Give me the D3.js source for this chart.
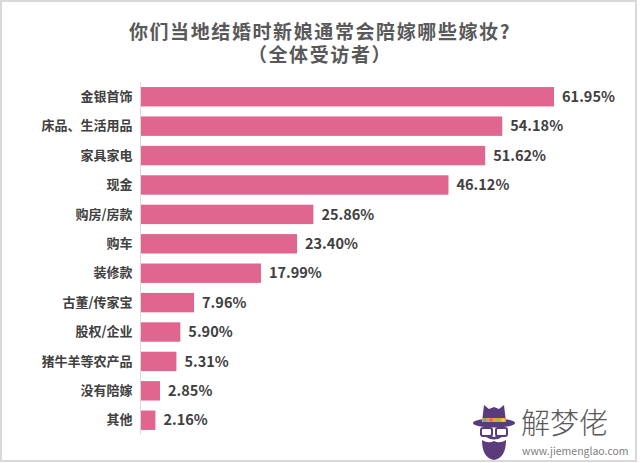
<html>
<head>
<meta charset="utf-8">
<title>嫁妆</title>
<style type="text/css">
* { margin: 0; padding: 0; }
body { background: #fff; width: 640px; height: 463px; overflow: hidden; }
text { font-family: "Noto Sans CJK SC", "Noto Sans", sans-serif; }
</style>
<script type="text/javascript" src="https://cdn.jsdelivr.net/npm/d3@7"></script>
</head>
<body>
<div id="chart"></div>
<script type="text/javascript">
// data
var categories = ["金银首饰", "床品、生活用品", "家具家电", "现金", "购房/房款", "购车", "装修款",
                  "古董/传家宝", "股权/企业", "猪牛羊等农产品", "没有陪嫁", "其他"];
var shares = [61.95, 54.18, 51.62, 46.12, 25.86, 23.40, 17.99, 7.96, 5.90, 5.31, 2.85, 2.16];
var titleLines = ["你们当地结婚时新娘通常会陪嫁哪些嫁妆?", "（全体受访者）"];

var W = 640, H = 463;
var pink = "#e0658f";
var textColor = "#404040";

var svg = d3.select("#chart").append("svg")
  .attr("width", W).attr("height", H);

// frame
svg.append("rect")
  .attr("x", 1).attr("y", 1).attr("width", 635).attr("height", 460)
  .attr("fill", "none").attr("stroke", "#d9d9d9").attr("stroke-width", 2);

// title, two lines in one text block
var title = svg.append("text")
  .attr("x", 320)
  .attr("y", 39)
  .attr("text-anchor", "middle")
  .attr("fill", "#595959")
  .attr("font-size", 19)
  .attr("font-weight", "bold")
  .attr("letter-spacing", 1.6);
title.selectAll("tspan").data(titleLines).enter().append("tspan")
  .attr("x", 320)
  .attr("dy", function(d, i) { return i == 0 ? 0 : 23; })
  .text(function(d) { return d; });

var x = d3.scaleLinear().domain([0, 70]).range([141, 141 + 6.667 * 70]);
var y = d3.scaleBand().domain(categories).range([82.5, 434.5])
  .paddingInner(0.34).paddingOuter(0.155);

// bars
svg.selectAll("rect.bar").data(shares).enter().append("rect")
  .attr("class", "bar")
  .attr("x", x(0))
  .attr("y", function(d, i) { return y(categories[i]); })
  .attr("width", function(d) { return x(d) - x(0); })
  .attr("height", y.bandwidth())
  .attr("fill", pink);

// vertical axis
var yAxis = svg.append("g")
  .attr("transform", "translate(" + (x(0) - 0.5) + ",0)")
  .call(d3.axisLeft(y).tickSize(0).tickPadding(8));
yAxis.select(".domain").attr("stroke", "#d9d9d9").attr("d", "M0,82.5V434.5");
yAxis.selectAll("text")
  .attr("fill", textColor)
  .attr("font-size", 13)
  .attr("font-weight", "bold")
  .attr("font-family", "\"Noto Sans CJK SC\", sans-serif");

// value labels
svg.selectAll("text.val").data(shares).enter().append("text")
  .attr("class", "val")
  .attr("x", function(d) { return x(d) + 8; })
  .attr("y", function(d, i) { return y(categories[i]) + y.bandwidth() / 2; })
  .attr("dy", "0.36em")
  .attr("fill", textColor)
  .attr("font-size", 14.5)
  .attr("font-weight", "bold")
  .attr("font-family", "\"Open Sans\", sans-serif")
  .text(function(d) { return d.toFixed(2) + "%"; });

// watermark logo
var logo = svg.append("g").attr("transform", "translate(494,432)");
logo.append("path")
  .attr("d", "M-12,-10 L-10,-27 L-5,-23 L0,-25 L5,-23 L10,-27 L12,-10 Z")
  .attr("fill", "#5a3c7c");
logo.append("ellipse").attr("cx", 0).attr("cy", -9).attr("rx", 21).attr("ry", 4.5).attr("fill", "#5a3c7c");
logo.append("rect").attr("x", -12).attr("y", -14).attr("width", 24).attr("height", 4).attr("fill", "#e9a23b");
["#3cb4c6", "#e85a7a", "#8cc63f", "#f5d23c"].forEach(function(c, i) {
  logo.append("circle").attr("cx", -9 + i * 6).attr("cy", -12).attr("r", 1.8).attr("fill", c);
});
logo.append("rect").attr("x", -13).attr("y", -4).attr("width", 11).attr("height", 8).attr("rx", 2)
  .attr("fill", "none").attr("stroke", "#5a3c7c").attr("stroke-width", 2);
logo.append("rect").attr("x", 2).attr("y", -4).attr("width", 11).attr("height", 8).attr("rx", 2)
  .attr("fill", "none").attr("stroke", "#5a3c7c").attr("stroke-width", 2);
logo.append("path")
  .attr("d", "M-12,8 Q-12,26 0,28 Q12,26 12,8 Q6,12 0,9 Q-6,12 -12,8 Z")
  .attr("fill", "#5a3c7c");
logo.append("path")
  .attr("d", "M-8,5 Q0,10 8,5 Q4,3 0,5 Q-4,3 -8,5 Z")
  .attr("fill", "#5a3c7c");

svg.append("text")
  .attr("x", 521).attr("y", 434)
  .attr("fill", "#595959")
  .attr("font-size", 29)
  .attr("font-family", "\"Noto Sans CJK SC\", sans-serif")
  .attr("font-weight", 300)
  .text("解梦佬");
svg.append("text")
  .attr("x", 522).attr("y", 455)
  .attr("fill", "#808080")
  .attr("font-size", 10.5)
  .attr("font-family", "\"DejaVu Sans\", sans-serif")
  .text("www.jiemenglao.com");
</script>
</body>
</html>
